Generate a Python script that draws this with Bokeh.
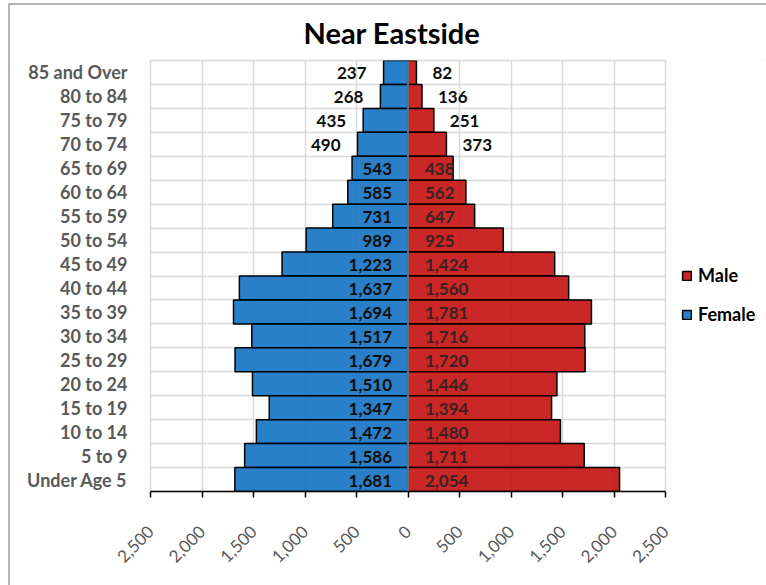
import math
from bokeh.plotting import figure
from bokeh.layouts import row
from bokeh.models import (ColumnDataSource, FixedTicker, Span, Legend, LegendItem, Range1d,
                          InlineStyleSheet)
from bokeh.core.properties import value
from bokeh.embed import file_html
from bokeh.resources import INLINE

# ---- data (top row first) ----
categories = ["85 and Over", "80 to 84", "75 to 79", "70 to 74", "65 to 69", "60 to 64",
              "55 to 59", "50 to 54", "45 to 49", "40 to 44", "35 to 39", "30 to 34",
              "25 to 29", "20 to 24", "15 to 19", "10 to 14", "5 to 9", "Under Age 5"]
female = [237, 268, 435, 490, 543, 585, 731, 989, 1223, 1637, 1694, 1517,
          1679, 1510, 1347, 1472, 1586, 1681]
male = [82, 136, 251, 373, 438, 562, 647, 925, 1424, 1560, 1781, 1716,
        1720, 1446, 1394, 1480, 1711, 2054]
x_ticks = [-2500, -2000, -1500, -1000, -500, 0, 500, 1000, 1500, 2000, 2500]
x_tick_labels = ["2,500", "2,000", "1,500", "1,000", "500", "0",
                 "500", "1,000", "1,500", "2,000", "2,500"]
# the top rows carry their value labels outside the bar end
outside_label_rows = 4

n = len(categories)
ypos = [n - 1 - i for i in range(n)]
FONT = value("Lato")
BLUE, RED = "#1371C3", "#C51010"
H = 577

src = ColumnDataSource(dict(
    y=ypos, cat=categories,
    f_left=[-v for v in female], f=female,
    m=male,
))

p = figure(width=680, height=H, output_backend="svg", toolbar_location=None,
           x_range=Range1d(-2500, 2500), y_range=Range1d(-0.5, n - 0.5),
           min_border_left=150, min_border_right=15, min_border_top=60,
           min_border_bottom=H - 60 - 431)
p.outline_line_color = "#d9d9d9"
p.outline_line_width = 1.5

# grid
p.xgrid.ticker = FixedTicker(ticks=x_ticks)
p.ygrid.ticker = FixedTicker(ticks=[i - 0.5 for i in range(n + 1)])
for g in (p.xgrid, p.ygrid):
    g.grid_line_color = "#d9d9d9"
    g.grid_line_width = 1.5

# bars
fr = p.hbar(y="y", left="f_left", right=0, height=1, source=src,
            fill_color=BLUE, fill_alpha=0.9, line_color="black", line_width=1.5)
mr = p.hbar(y="y", left=0, right="m", height=1, source=src,
            fill_color=RED, fill_alpha=0.9, line_color="black", line_width=1.5)

p.add_layout(Span(location=0, dimension="height", line_color="#8c8c8c", line_width=1.5))

# data labels
def split(vals, sign):
    ins = dict(x=[], y=[], t=[])
    out = dict(x=[], y=[], t=[])
    for i, (v, y) in enumerate(zip(vals, ypos)):
        outside = i < outside_label_rows
        d = out if outside else ins
        d["x"].append(sign * v if outside else 0)
        d["y"].append(y)
        d["t"].append(f"{v:,}")
    return ColumnDataSource(ins), ColumnDataSource(out)

f_in, f_out = split(female, -1)
m_in, m_out = split(male, 1)
common = dict(y="y", text="t", text_baseline="middle", text_font=FONT,
              text_font_style="bold", text_font_size="17px", y_offset=1)
p.text(x="x", source=f_in, text_align="right", x_offset=-16, text_color="#0d0d0d", **common)
p.text(x="x", source=f_out, text_align="right", x_offset=-17, text_color="#0d0d0d", **common)
p.text(x="x", source=m_in, text_align="left", x_offset=17, text_color="#3a2222", **common)
p.text(x="x", source=m_out, text_align="left", x_offset=16, text_color="#0d0d0d", **common)

# axes
p.xaxis.ticker = FixedTicker(ticks=x_ticks)
p.xaxis.major_label_overrides = {t: l for t, l in zip(x_ticks, x_tick_labels)}
p.xaxis.major_label_orientation = math.pi / 4
p.xaxis.axis_line_color = "black"
p.xaxis.axis_line_width = 1.5
p.xaxis.major_tick_line_color = "black"
p.xaxis.major_tick_line_width = 1.5
p.xaxis.major_tick_out = 6
p.xaxis.major_tick_in = 0
p.xaxis.minor_tick_line_color = None
p.xaxis.major_label_text_font = "Lato"
p.xaxis.major_label_text_font_size = "17px"
p.xaxis.major_label_text_color = "#595959"
p.xaxis.major_label_standoff = 31

p.yaxis.ticker = FixedTicker(ticks=ypos)
p.yaxis.major_label_overrides = {y: c for y, c in zip(ypos, categories)}
p.yaxis.axis_line_color = None
p.yaxis.major_tick_line_color = None
p.yaxis.minor_tick_line_color = None
p.yaxis.major_tick_out = 0
p.yaxis.major_tick_in = 0
p.yaxis.major_label_text_font = "Lato"
p.yaxis.major_label_text_font_style = "bold"
p.yaxis.major_label_text_font_size = "18px"
p.yaxis.major_label_text_color = "#595959"
p.yaxis.major_label_standoff = 23

# title
p.title.text = "Near Eastside"
p.title.align = "left"
p.title.offset = 153
p.title.text_font = "Lato"
p.title.text_font_size = "29px"
p.title.text_font_style = "bold"
p.title.text_color = "black"
p.title.standoff = 21

# legend in a narrow side figure
q = figure(width=84, height=H, output_backend="svg", toolbar_location=None,
           x_range=Range1d(0, 1), y_range=Range1d(0, 1), min_border=0)
q.axis.visible = False
q.grid.visible = False
q.outline_line_color = None
dummy = ColumnDataSource(dict(y=[5], l=[5], r=[6]))
qm = q.hbar(y="y", left="l", right="r", height=1, source=dummy,
            fill_color=RED, fill_alpha=0.9, line_color="black", line_width=1.5)
qf = q.hbar(y="y", left="l", right="r", height=1, source=dummy,
            fill_color=BLUE, fill_alpha=0.9, line_color="black", line_width=1.5)
legend = Legend(items=[LegendItem(label="Male", renderers=[qm]),
                       LegendItem(label="Female", renderers=[qf])],
                location=(1, 166), glyph_width=11, glyph_height=11,
                label_standoff=6, spacing=17, label_height=22, padding=0,
                margin=0, border_line_color=None, background_fill_alpha=0,
                label_text_font="Lato", label_text_font_style="bold",
                label_text_font_size="18px", label_text_color="black")
q.add_layout(legend, "center")

# chart-area frame (as in the spreadsheet chart)
frame_css = InlineStyleSheet(css="""
:host { position: relative; }
:host::after {
  content: ""; position: absolute; left: 8px; top: 3px; right: -20px; bottom: -20px;
  border-left: 2px solid #b4b4b4; border-top: 2px solid #b4b4b4;
  pointer-events: none; z-index: 100;
}
""")
layout = row(p, q, stylesheets=[frame_css])

open("out.html", "w").write(file_html(layout, INLINE))
